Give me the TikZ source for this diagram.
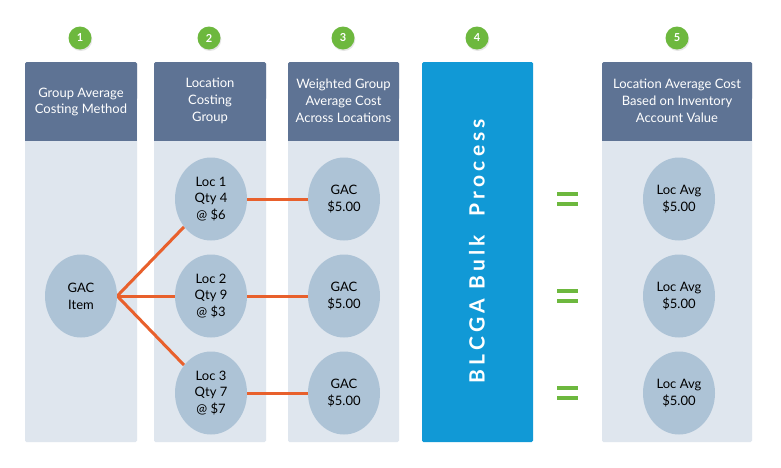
\documentclass[tikz,border=0pt]{standalone}
\usepackage{fontspec}
\setmainfont{Lato}
\newfontfamily\spacedfont[LetterSpace=20]{Lato}
\usetikzlibrary{shapes.geometric}
\definecolor{hdr}{HTML}{5E7394}
\definecolor{bodyc}{HTML}{DFE6EE}
\definecolor{ellc}{HTML}{ADC3D6}
\definecolor{bluec}{HTML}{1199D6}
\definecolor{greenc}{HTML}{6DB83E}
\definecolor{orangec}{HTML}{E8602C}
\pgfdeclarelayer{bg}
\pgfdeclarelayer{links}
\pgfsetlayers{bg,links,main}
\begin{document}
\begin{tikzpicture}[x=1pt,y=-1pt,
  colbody/.style={fill=bodyc,rounded corners=1.5pt},
  hdrtext/.style={text=white,font=\fontsize{13}{16.8}\selectfont,align=center},
  badge/.style={circle,fill=greenc,minimum size=23pt,inner sep=0pt,text=white,font=\fontsize{11}{12}\selectfont\bfseries},
  shadowc/.style={circle,fill=black!25,minimum size=23pt,inner sep=0pt},
  bubble/.style={ellipse,fill=ellc,minimum width=72pt,minimum height=83pt,inner sep=0pt,align=center,font=\fontsize{13}{16.8}\selectfont,text=black},
  link/.style={draw=orangec,line width=3pt},
  eqbar/.style={draw=greenc,line width=4pt}]
\useasboundingbox (0,0) rectangle (781,467);
\begin{pgfonlayer}{bg}
\fill[white] (0,0) rectangle (781,467);
\foreach \xa/\xb in {25/137,154/266,288/399,602/752}{
  \fill[colbody] (\xa,62) rectangle (\xb,442);
  \fill[hdr,rounded corners=1.5pt] (\xa,62) rectangle (\xb,100);
  \fill[hdr] (\xa,80) rectangle (\xb,141);
}
\fill[bluec,rounded corners=1.5pt] (422,62) rectangle (533,442);
\end{pgfonlayer}
% header texts
\node[hdrtext] (h1) at (81,102) {Group Average\\Costing Method};
\node[hdrtext] (h2) at (210,101) {Location\\Costing\\Group};
\node[hdrtext] (h3) at (343.5,101) {Weighted Group\\Average Cost\\Across Locations};
\node[hdrtext] (h5) at (677,101) {Location Average Cost\\Based on Inventory\\Account Value};
% badges
\foreach \n/\x in {1/80,2/209,3/343,4/477,5/677}{
  \node[shadowc,opacity=0.4] at (\x+0.8,39.5) {};
  \node[badge] (b\n) at (\x,38) {\n};
}
% vertical text
\node[rotate=90,text=white,font=\fontsize{21}{24}\selectfont\bfseries\spacedfont] (blk) at (477,251) {BLCGA Bulk\hspace{0.9em}Process};
% bubbles
\node[bubble] (item) at (81,296) {GAC\\Item};
\node[bubble] (l1) at (211,199) {Loc 1\\Qty 4\\@ \$6};
\node[bubble] (l2) at (211,296) {Loc 2\\Qty 9\\@ \$3};
\node[bubble] (l3) at (211,393) {Loc 3\\Qty 7\\@ \$7};
\node[bubble] (g1) at (344,199) {GAC\\\$5.00};
\node[bubble] (g2) at (344,296) {GAC\\\$5.00};
\node[bubble] (g3) at (344,393) {GAC\\\$5.00};
\node[bubble] (a1) at (679,199) {Loc Avg\\\$5.00};
\node[bubble] (a2) at (679,296) {Loc Avg\\\$5.00};
\node[bubble] (a3) at (679,393) {Loc Avg\\\$5.00};
% links
\begin{pgfonlayer}{links}
\coordinate (src) at (item.east);
\draw[link] (src) -- (l1);
\draw[link] (src) -- (l2);
\draw[link] (src) -- (l3);
\draw[link] (l1) -- (g1);
\draw[link] (l2) -- (g2);
\draw[link] (l3) -- (g3);
\end{pgfonlayer}
% equals signs
\foreach \y/\n in {199/1,296/2,393/3}{
  \coordinate (eq\n) at (567.5,\y);
  \draw[eqbar] ([xshift=-10.5pt,yshift=-5pt]eq\n) -- ([xshift=10.5pt,yshift=-5pt]eq\n);
  \draw[eqbar] ([xshift=-10.5pt,yshift=5pt]eq\n) -- ([xshift=10.5pt,yshift=5pt]eq\n);
}
\end{tikzpicture}
\end{document}
